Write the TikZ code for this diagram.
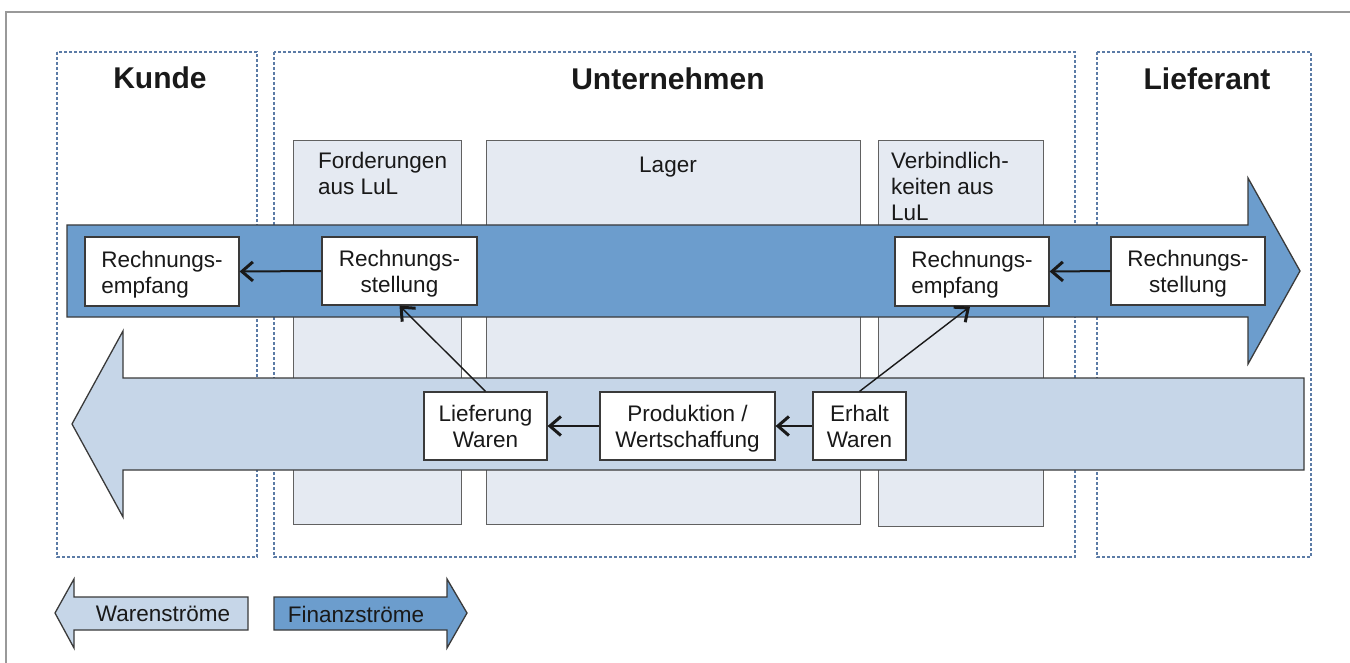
\documentclass[tikz,border=0pt]{standalone}
\usepackage{fontspec}
\setmainfont{Liberation Sans}
\usetikzlibrary{arrows.meta}
\definecolor{finblue}{HTML}{6C9DCD}
\definecolor{warblue}{HTML}{C6D6E8}
\definecolor{colfill}{HTML}{E5EAF2}
\definecolor{dashblue}{HTML}{5B7BA6}
\definecolor{edgegray}{HTML}{3A3A3A}
% two-line text of a process step, set slightly low in its box
\newcommand{\stepText}[2][c]{\raisebox{-3.5pt}[\height][\depth]{%
  \begin{tabular}{@{}#1@{}}#2\end{tabular}}}
\tikzset{
  x=1pt, y=-1pt,
  every node/.style={font=\fontsize{22.5}{26}\selectfont, text=black!90},
  party/.style={draw=dashblue, line width=1.2pt, dash pattern=on 3pt off 2pt},
  partytitle/.style={anchor=base, font=\fontsize{30}{33}\selectfont\bfseries},
  account/.style={draw=edgegray!80, line width=0.9pt, fill=colfill},
  accountlabel/.style={anchor=north west, inner sep=0pt, align=left},
  flowfin/.style={draw=edgegray, line width=1.3pt, fill=finblue},
  flowwar/.style={draw=edgegray, line width=1.3pt, fill=warblue},
  stepbox/.style={draw=edgegray, line width=1.2pt, fill=white, inner sep=0pt},
  link/.style={draw=black!90, line width=2pt,
    -{Straight Barb[length=11pt,width=19pt,line width=3pt]}},
  thinlink/.style={draw=black!90, line width=1.4pt,
    -{Straight Barb[length=11pt,width=19pt,line width=3pt]}},
}
\begin{document}
\begin{tikzpicture}
\useasboundingbox (0,0) rectangle (1350,663);
\fill[white] (0,0) rectangle (1350,663);

% outer frame
\draw[black!40, line width=1.5pt] (6,663) -- (6,12) -- (1350,12);

% parties
\draw[party] (57,52) rectangle (257,557);
\draw[party] (274,52) rectangle (1075,557);
\draw[party] (1097,52) rectangle (1311,557);
\node[partytitle] (tKunde) at (160,89) {Kunde};
\node[partytitle] (tUnt) at (668,90) {Unternehmen};
\node[partytitle] (tLief) at (1207,90) {Lieferant};

% accounts inside the company
\draw[account] (293,140) rectangle (461,524);
\draw[account] (486,140) rectangle (860,524);
\draw[account] (878,140) rectangle (1043,526);
\node[accountlabel] (lForder) at (318,152) {Forderungen\\aus LuL};
\node[anchor=base] (lLager) at (668,173) {Lager};
\node[accountlabel] (lVerb) at (891,152) {Verbindlich-\\keiten aus\\LuL};

% flow of goods (to the left)
\draw[flowwar] (1304,378) -- (123,378) -- (123,331) -- (72,424) -- (123,517)
  -- (123,470) -- (1304,470) -- cycle;
% flow of money (to the right)
\draw[flowfin] (67,225) -- (1248,225) -- (1248,178) -- (1300,271) -- (1248,364)
  -- (1248,317) -- (67,317) -- cycle;

% process steps
\node[stepbox, minimum width=154pt, minimum height=69pt] (reK) at (162,271.5)
  {\stepText[l]{Rechnungs-\\empfang}};
\node[stepbox, minimum width=155pt, minimum height=68pt] (rsU) at (399.5,271)
  {\stepText{Rechnungs-\\stellung}};
\node[stepbox, minimum width=154pt, minimum height=69pt] (reU) at (972,271.5)
  {\stepText[l]{Rechnungs-\\empfang}};
\node[stepbox, minimum width=154pt, minimum height=68pt] (rsL) at (1188,271)
  {\stepText{Rechnungs-\\stellung}};
\node[stepbox, minimum width=123pt, minimum height=68pt] (lief) at (485.5,426)
  {\stepText{Lieferung\\Waren}};
\node[stepbox, minimum width=175pt, minimum height=68pt] (prod) at (687.5,426)
  {\stepText{Produktion /\\Wertschaffung}};
\node[stepbox, minimum width=93pt, minimum height=68pt] (erh) at (859.5,426)
  {\stepText{Erhalt\\Waren}};

% connectors
\draw[link] (rsU.west) -- (reK.east);
\draw[link] (rsL.west) -- (reU.east);
\draw[link] (erh.west) -- (prod.east);
\draw[link] (prod.west) -- (lief.east);
\draw[thinlink] (lief.north) -- (rsU.south);
\draw[thinlink] (erh.north) -- ([xshift=-2pt]reU.south);

% legend
\draw[flowwar] (248,597) -- (74,597) -- (74,579) -- (55,613) -- (74,648)
  -- (74,630) -- (248,630) -- cycle;
\draw[flowfin] (274,597) -- (447,597) -- (447,579) -- (467,613) -- (447,648)
  -- (447,630) -- (274,630) -- cycle;
\node (lgWar) at (163,614) {Warenströme};
\node (lgFin) at (356,614) {Finanzströme};
\end{tikzpicture}
\end{document}
